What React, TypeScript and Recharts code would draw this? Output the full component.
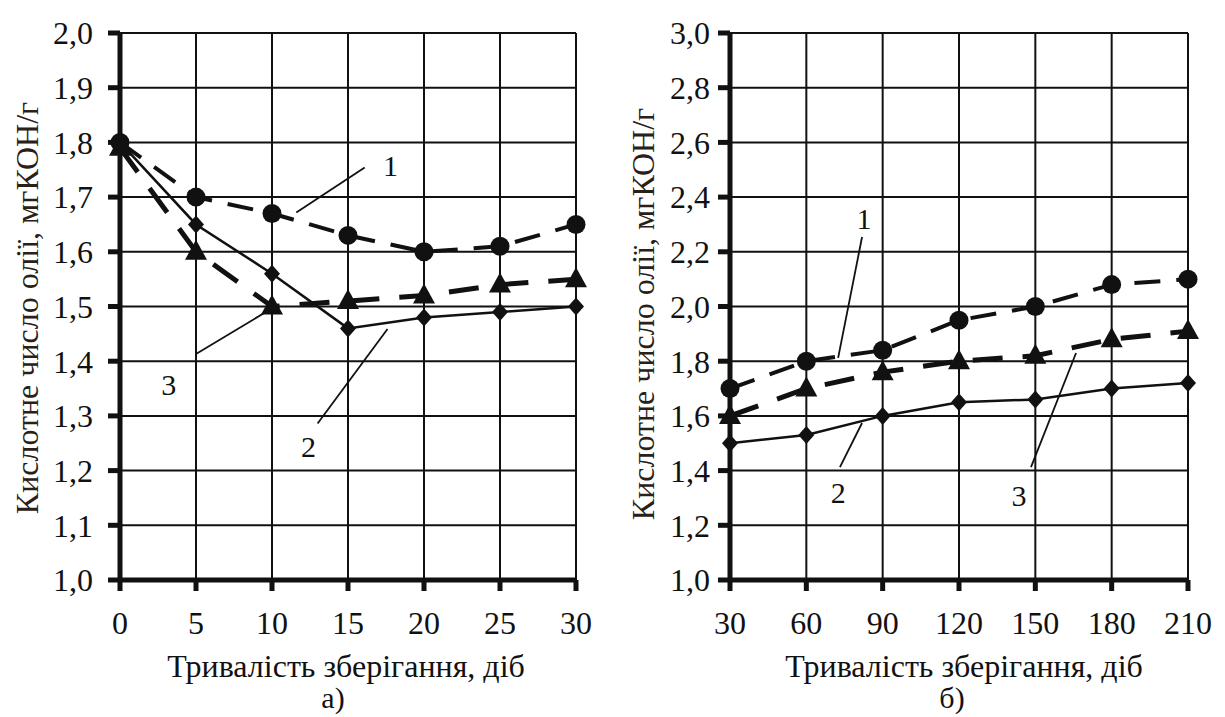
import React from 'react';
import { LineChart, Line, XAxis, YAxis, CartesianGrid, ReferenceLine, ReferenceDot } from 'recharts';

// a) short storage, days
const daysA = [0, 5, 10, 15, 20, 25, 30];
const acidA1 = [1.8, 1.7, 1.67, 1.63, 1.6, 1.61, 1.65];
const acidA2 = [1.8, 1.65, 1.56, 1.46, 1.48, 1.49, 1.5];
const acidA3 = [1.79, 1.6, 1.5, 1.51, 1.52, 1.54, 1.55];
const yTicksA = [1.0, 1.1, 1.2, 1.3, 1.4, 1.5, 1.6, 1.7, 1.8, 1.9, 2.0];

// б) long storage, days
const daysB = [30, 60, 90, 120, 150, 180, 210];
const acidB1 = [1.7, 1.8, 1.84, 1.95, 2.0, 2.08, 2.1];
const acidB2 = [1.5, 1.53, 1.6, 1.65, 1.66, 1.7, 1.72];
const acidB3 = [1.6, 1.7, 1.76, 1.8, 1.82, 1.88, 1.91];
const yTicksB = [1.0, 1.2, 1.4, 1.6, 1.8, 2.0, 2.2, 2.4, 2.6, 2.8, 3.0];

// curve numbers and leader lines, in data units
const labelsA = [
  { text: '1', x: 17.8, y: 1.758 },
  { text: '2', x: 12.4, y: 1.244 },
  { text: '3', x: 3.2, y: 1.358 },
];
const leadersA = [
  [{ x: 11.6, y: 1.672 }, { x: 16.1, y: 1.754 }],
  [{ x: 17.6, y: 1.459 }, { x: 13.0, y: 1.286 }],
  [{ x: 5.0, y: 1.413 }, { x: 9.9, y: 1.495 }],
];
const labelsB = [
  { text: '1', x: 82.7, y: 2.324 },
  { text: '2', x: 72.5, y: 1.322 },
  { text: '3', x: 143.6, y: 1.311 },
];
const leadersB = [
  [{ x: 81.9, y: 2.254 }, { x: 72.5, y: 1.812 }],
  [{ x: 73.2, y: 1.413 }, { x: 81.9, y: 1.574 }],
  [{ x: 148.3, y: 1.413 }, { x: 166, y: 1.83 }],
];

const FONT = "'Liberation Serif', 'Times New Roman', 'DejaVu Serif', serif";
const INK = '#111';

const rowsA = daysA.map((d, i) => ({ day: d, s1: acidA1[i], s2: acidA2[i], s3: acidA3[i] }));
const rowsB = daysB.map((d, i) => ({ day: d, s1: acidB1[i], s2: acidB2[i], s3: acidB3[i] }));

const circleDot = (p: any) => <circle key={`c-${p.index}`} cx={p.cx} cy={p.cy} r={9.5} fill={INK} />;
const diamondDot = (p: any) => (
  <path key={`d-${p.index}`} d={`M${p.cx},${p.cy - 9}L${p.cx + 8},${p.cy}L${p.cx},${p.cy + 9}L${p.cx - 8},${p.cy}Z`} fill={INK} />
);
const triangleDot = (p: any) => (
  <path key={`t-${p.index}`} d={`M${p.cx},${p.cy - 12}L${p.cx + 11},${p.cy + 8}L${p.cx - 11},${p.cy + 8}Z`} fill={INK} />
);

const fmt = (v: number) => v.toFixed(1).replace('.', ',');

const tickStyle = { fontSize: 32, fontFamily: FONT, fill: INK };

function Panel({ rows, xTicks, yTicks, yDomain, labels, leaders, width, marginRight, yMarginLeft, tickGapY }: any) {
  return (
    <LineChart width={width} height={717} data={rows} margin={{ top: 33, right: marginRight, bottom: 97, left: yMarginLeft }}>
      <CartesianGrid stroke={INK} strokeWidth={2} />
      <XAxis
        type="number"
        dataKey="day"
        domain={[xTicks[0], xTicks[xTicks.length - 1]]}
        ticks={xTicks}
        interval={0}
        height={40}
        axisLine={{ stroke: INK, strokeWidth: 5 }}
        tickLine={{ stroke: INK, strokeWidth: 5 }}
        tickSize={11}
        tickMargin={20}
        tick={tickStyle}
      />
      <YAxis
        type="number"
        domain={yDomain}
        ticks={yTicks}
        interval={0}
        width={60}
        axisLine={{ stroke: INK, strokeWidth: 5 }}
        tickLine={{ stroke: INK, strokeWidth: 5 }}
        tickSize={12}
        tickMargin={tickGapY}
        tickFormatter={fmt}
        tick={tickStyle}
      />
      {leaders.map((seg: any, i: number) => (
        <ReferenceLine key={`l-${i}`} segment={seg} stroke={INK} strokeWidth={1.8} />
      ))}
      {labels.map((l: any, i: number) => (
        <ReferenceDot
          key={`n-${i}`}
          x={l.x}
          y={l.y}
          r={0}
          fill="none"
          stroke="none"
          label={{ value: l.text, position: 'center', fontSize: 30, fontFamily: FONT, fill: INK }}
        />
      ))}
      <Line dataKey="s2" stroke={INK} strokeWidth={2.5} dot={diamondDot} isAnimationActive={false} />
      <Line dataKey="s3" stroke={INK} strokeWidth={5} strokeDasharray="30 20" dot={triangleDot} isAnimationActive={false} />
      <Line dataKey="s1" stroke={INK} strokeWidth={4} strokeDasharray="26 16" dot={circleDot} isAnimationActive={false} />
    </LineChart>
  );
}

const textBase: React.CSSProperties = {
  position: 'absolute',
  fontFamily: FONT,
  fontSize: 32,
  color: INK,
  whiteSpace: 'nowrap',
  lineHeight: 1,
};

function Centered({ x, y, children, rotate, color, size }: any) {
  return (
    <div
      style={{
        ...textBase,
        left: x,
        top: y,
        fontSize: size || 32,
        color: color || INK,
        transform: `translate(-50%, -50%)${rotate ? ' rotate(-90deg)' : ''}`,
      }}
    >
      {children}
    </div>
  );
}

export default function App() {
  return (
    <div style={{ position: 'absolute', left: 0, top: 0, width: 1225, height: 717, background: '#fff', overflow: 'hidden' }}>
      <div style={{ position: 'absolute', left: 0, top: 0 }}>
        <Panel
          rows={rowsA}
          xTicks={daysA}
          yTicks={yTicksA}
          yDomain={[1, 2]}
          labels={labelsA}
          leaders={leadersA}
          width={612}
          marginRight={36}
          yMarginLeft={60}
          tickGapY={15}
        />
      </div>
      <div style={{ position: 'absolute', left: 620, top: 0 }}>
        <Panel
          rows={rowsB}
          xTicks={daysB}
          yTicks={yTicksB}
          yDomain={[1, 3]}
          labels={labelsB}
          leaders={leadersB}
          width={605}
          marginRight={37}
          yMarginLeft={50}
          tickGapY={8}
        />
      </div>
      <Centered x={27} y={308} rotate color="#2a2016">Кислотне число олії, мгКОН/г</Centered>
      <Centered x={643} y={314} rotate color="#2a2016">Кислотне число олії, мгКОН/г</Centered>
      <Centered x={346} y={666}>Тривалість зберігання, діб</Centered>
      <Centered x={333} y={698} size={30}>а)</Centered>
      <Centered x={964} y={666}>Тривалість зберігання, діб</Centered>
      <Centered x={952} y={698} size={30}>б)</Centered>
    </div>
  );
}
